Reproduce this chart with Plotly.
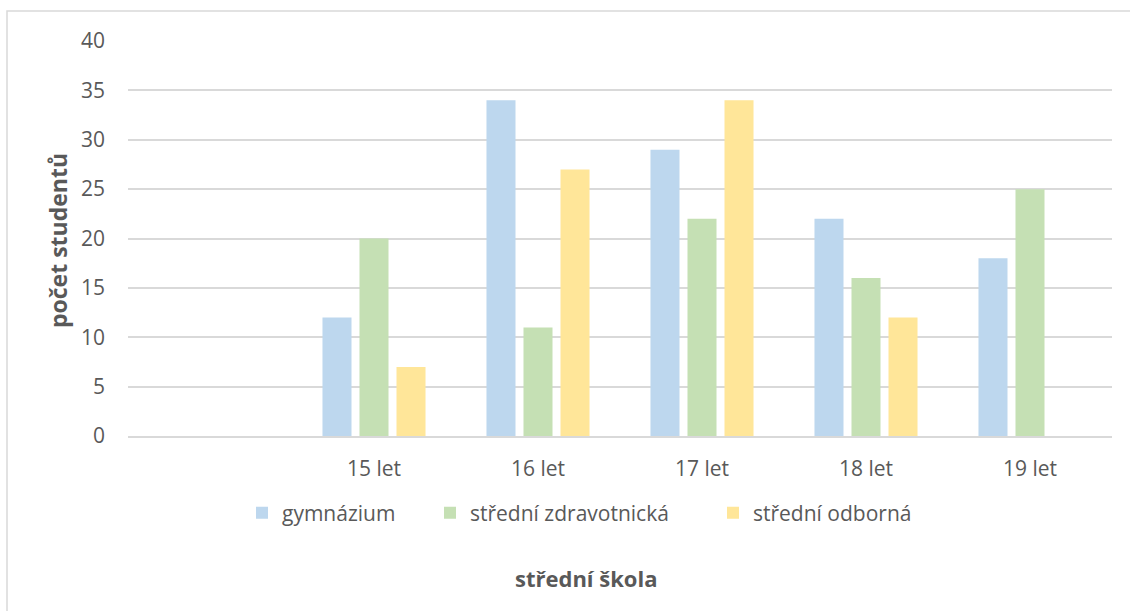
import plotly.graph_objects as go

# Age groups (leading blank slot keeps the empty first category)
categories = [" ", "15 let", "16 let", "17 let", "18 let", "19 let"]

gymnazium = [None, 12, 34, 29, 22, 18]
zdravotnicka = [None, 20, 11, 22, 16, 25]
odborna = [None, 7, 27, 34, 12, 0]

series_names = ["gymnázium", "střední zdravotnická", "střední odborná"]
colors = ["#BDD7EE", "#C5E0B4", "#FFE699"]

y_ticks = [0, 5, 10, 15, 20, 25, 30, 35, 40]

FONT = "Open Sans"
TEXT = "#595959"

W, H = 1130, 611
L, R, T, B = 128, 18, 41, 175
PW, PH = W - L - R, H - T - B


def px_x(x):
    return (x - L) / PW


def px_y(y):
    return (H - B - y) / PH


fig = go.Figure()
legends = ["legend", "legend2", "legend3"]
for name, vals, col, lg in zip(series_names, [gymnazium, zdravotnicka, odborna], colors, legends):
    fig.add_trace(go.Bar(
        x=categories, y=vals, name=name, marker_color=col,
        marker_line_width=0, legend=lg,
    ))

legend_common = dict(
    orientation="h", yanchor="middle", xanchor="left",
    font=dict(family=FONT, size=21, color=TEXT),
    bgcolor="rgba(0,0,0,0)", borderwidth=0,
)
legend_x = [256, 444, 727]
fig.update_layout(
    legend=dict(x=px_x(legend_x[0] - 14), y=px_y(513), **legend_common),
    legend2=dict(x=px_x(legend_x[1] - 14), y=px_y(513), **legend_common),
    legend3=dict(x=px_x(legend_x[2] - 14), y=px_y(513), **legend_common),
)

fig.update_layout(
    width=W, height=H,
    margin=dict(l=L, r=R, t=T, b=B),
    paper_bgcolor="white", plot_bgcolor="white",
    barmode="group", bargap=0.323, bargroupgap=0.216,
    showlegend=True,
    font=dict(family=FONT, color=TEXT),
)

fig.update_xaxes(
    type="category", categoryorder="array", categoryarray=categories,
    showgrid=False, showline=True, linecolor="#D9D9D9", linewidth=1.5,
    ticks="", tickfont=dict(family=FONT, size=21, color=TEXT),
    ticklabelstandoff=13,
)
fig.update_yaxes(
    range=[0, 40], tickvals=y_ticks, ticktext=[str(v) for v in y_ticks],
    showgrid=True, gridcolor="#D9D9D9", gridwidth=1.5,
    zeroline=False, showline=False, ticks="",
    tickfont=dict(family=FONT, size=21, color=TEXT),
    ticklabelstandoff=22,
)

# Axis titles
fig.add_annotation(
    text="<b>počet studentů</b>", x=px_x(58), y=px_y(241),
    xref="paper", yref="paper", textangle=-90, showarrow=False,
    xanchor="center", yanchor="middle",
    font=dict(family=FONT, size=23, color=TEXT),
)
fig.add_annotation(
    text="<b>střední škola</b>", x=px_x(586), y=px_y(578),
    xref="paper", yref="paper", showarrow=False,
    xanchor="center", yanchor="middle",
    font=dict(family=FONT, size=22, color=TEXT),
)

# Chart-area frame
fig.add_shape(
    type="rect", xref="paper", yref="paper",
    x0=px_x(7), y0=px_y(640), x1=px_x(1160), y1=px_y(11),
    line=dict(color="#D9D9D9", width=1.5), fillcolor="rgba(0,0,0,0)",
    layer="below",
)

fig.write_html("out.html")
